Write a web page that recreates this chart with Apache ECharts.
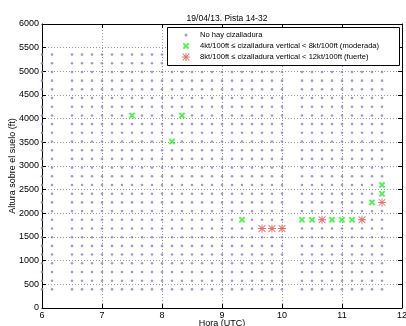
<!DOCTYPE html>
<html>
<head>
<meta charset="utf-8">
<script src="https://cdn.jsdelivr.net/npm/echarts@6/dist/echarts.min.js"></script>
<style>
  html, body { margin: 0; padding: 0; background: #fff; }
  #chart { width: 406px; height: 326px; }
</style>
</head>
<body>
<div id="chart"></div>
<script>
// horas de medida (cada 10 min, faltan 6:20 y 10:10)
const times = [6, 6.167, 6.5, 6.667, 6.833, 7, 7.167, 7.333, 7.5, 7.667, 7.833,
  8, 8.167, 8.333, 8.5, 8.667, 8.833, 9, 9.167, 9.333, 9.5, 9.667, 9.833, 10,
  10.333, 10.5, 10.667, 10.833, 11, 11.167, 11.333, 11.5, 11.667];
// alturas de los niveles (ft)
const heights = [394, 577, 761, 945, 1129, 1312, 1496, 1680, 1864, 2047, 2231,
  2415, 2598, 2782, 2966, 3150, 3333, 3517, 3701, 3885, 4068, 4252, 4436, 4619,
  4803, 4987, 5171, 5354];
// cizalladura moderada
const moderada = [[7.5, 4068], [8.333, 4068], [8.167, 3517], [9.333, 1864],
  [10.333, 1864], [10.5, 1864], [10.833, 1864], [11, 1864], [11.167, 1864],
  [11.5, 2231], [11.667, 2415], [11.667, 2598]];
// cizalladura fuerte
const fuerte = [[9.667, 1680], [9.833, 1680], [10, 1680], [10.667, 1864],
  [11.333, 1864], [11.667, 2231]];
const xTicks = [6, 7, 8, 9, 10, 11, 12];
const yTicks = [0, 500, 1000, 1500, 2000, 2500, 3000, 3500, 4000, 4500, 5000, 5500, 6000];

const names = ['No hay cizalladura',
  '4kt/100ft \u2264 cizalladura vertical < 8kt/100ft (moderada)',
  '8kt/100ft \u2264 cizalladura vertical < 12kt/100ft (fuerte)'];

const marcados = {};
moderada.concat(fuerte).forEach(p => { marcados[p[0] + '_' + p[1]] = true; });
const sinCiz = [];
times.forEach(t => {
  heights.forEach(h => {
    if (!marcados[t + '_' + h]) sinCiz.push([t, h]);
  });
});

const crossPath = 'path://M0,2L2,0L5,3L8,0L10,2L7,5L10,8L8,10L5,7L2,10L0,8L3,5Z';
const starPath = 'path://M4.4,0H5.6V10H4.4Z M0,4.4H10V5.6H0Z M1.2,0.4L9.6,8.8L8.8,9.6L0.4,1.2Z M8.8,0.4L9.6,1.2L1.2,9.6L0.4,8.8Z';

const font = 'Liberation Sans, Arial, sans-serif';
const fs = 9;     // ejes
const fsLeg = 7.6; // leyenda

let myChart = echarts.init(document.getElementById('chart'));

function legendItem(name, size, top) {
  return {
    data: [name],
    orient: 'vertical',
    left: 186 - size / 2,
    top: top,
    padding: 0,
    itemWidth: size,
    itemHeight: size,
    z: 20,
    selectedMode: false,
    textStyle: { fontFamily: font, fontSize: fsLeg, color: '#000', padding: [0, 0, 0, 9 - size / 2] }
  };
}

const axisCommon = {
  axisLine: { show: true, onZero: false, lineStyle: { color: '#000', width: 1 } },
  axisTick: { show: true, inside: true, length: 4, lineStyle: { color: '#000' } }
};
const gridLine = { show: true, lineStyle: { color: '#999', type: [1, 2], width: 1 } };

myChart.setOption({
  animation: false,
  backgroundColor: '#fff',
  title: {
    text: '19/04/13. Pista 14-32',
    left: 222,
    textAlign: 'center',
    top: 9,
    textStyle: { fontFamily: font, fontSize: 8.5, fontWeight: 'normal', color: '#000' }
  },
  grid: { left: 42, right: 4, top: 24, bottom: 18, outerBoundsMode: 'none', containLabel: false },
  legend: [
    legendItem(names[0], 3, 31),
    legendItem(names[1], 6.5, 42),
    legendItem(names[2], 8, 53)
  ],
  graphic: [{
    type: 'rect',
    z: 10,
    shape: { x: 167.5, y: 27.5, width: 232, height: 38 },
    style: { fill: '#fff', stroke: '#000', lineWidth: 1 }
  }],
  xAxis: [
    Object.assign({
      type: 'value', min: xTicks[0], max: xTicks[xTicks.length - 1], interval: 1,
      name: 'Hora (UTC)', nameLocation: 'middle', nameGap: 11, nameMoveOverlap: false,
      nameTextStyle: { fontFamily: font, fontSize: fs, color: '#000' },
      axisLabel: { fontFamily: font, fontSize: fs, color: '#000', margin: 3, formatter: v => String(v) },
      splitLine: gridLine
    }, axisCommon),
    Object.assign({
      type: 'value', position: 'top', min: xTicks[0], max: xTicks[xTicks.length - 1], interval: 1,
      axisLabel: { show: false }, splitLine: { show: false }
    }, axisCommon)
  ],
  yAxis: [
    Object.assign({
      type: 'value', min: yTicks[0], max: yTicks[yTicks.length - 1], interval: 500,
      name: 'Altura sobre el suelo (ft)', nameLocation: 'middle', nameGap: 25, nameMoveOverlap: false,
      nameTextStyle: { fontFamily: font, fontSize: fs, color: '#000' },
      axisLabel: { fontFamily: font, fontSize: fs, color: '#000', margin: 3, formatter: v => String(v) },
      splitLine: gridLine
    }, axisCommon),
    Object.assign({
      type: 'value', position: 'right', min: yTicks[0], max: yTicks[yTicks.length - 1], interval: 500,
      axisLabel: { show: false }, splitLine: { show: false }
    }, axisCommon)
  ],
  series: [
    {
      name: names[0], type: 'scatter', data: sinCiz,
      symbol: 'circle', symbolSize: 2.6,
      itemStyle: { color: '#8585b8' }
    },
    {
      name: names[1], type: 'scatter', data: moderada,
      symbol: crossPath, symbolSize: 6.5,
      itemStyle: { color: '#22ee22' }
    },
    {
      name: names[2], type: 'scatter', data: fuerte,
      symbol: starPath, symbolSize: 8,
      itemStyle: { color: '#e05050' }
    }
  ]
});

window.addEventListener('resize', () => {
  if (myChart) {
    myChart.resize();
  }
});
</script>
</body>
</html>
